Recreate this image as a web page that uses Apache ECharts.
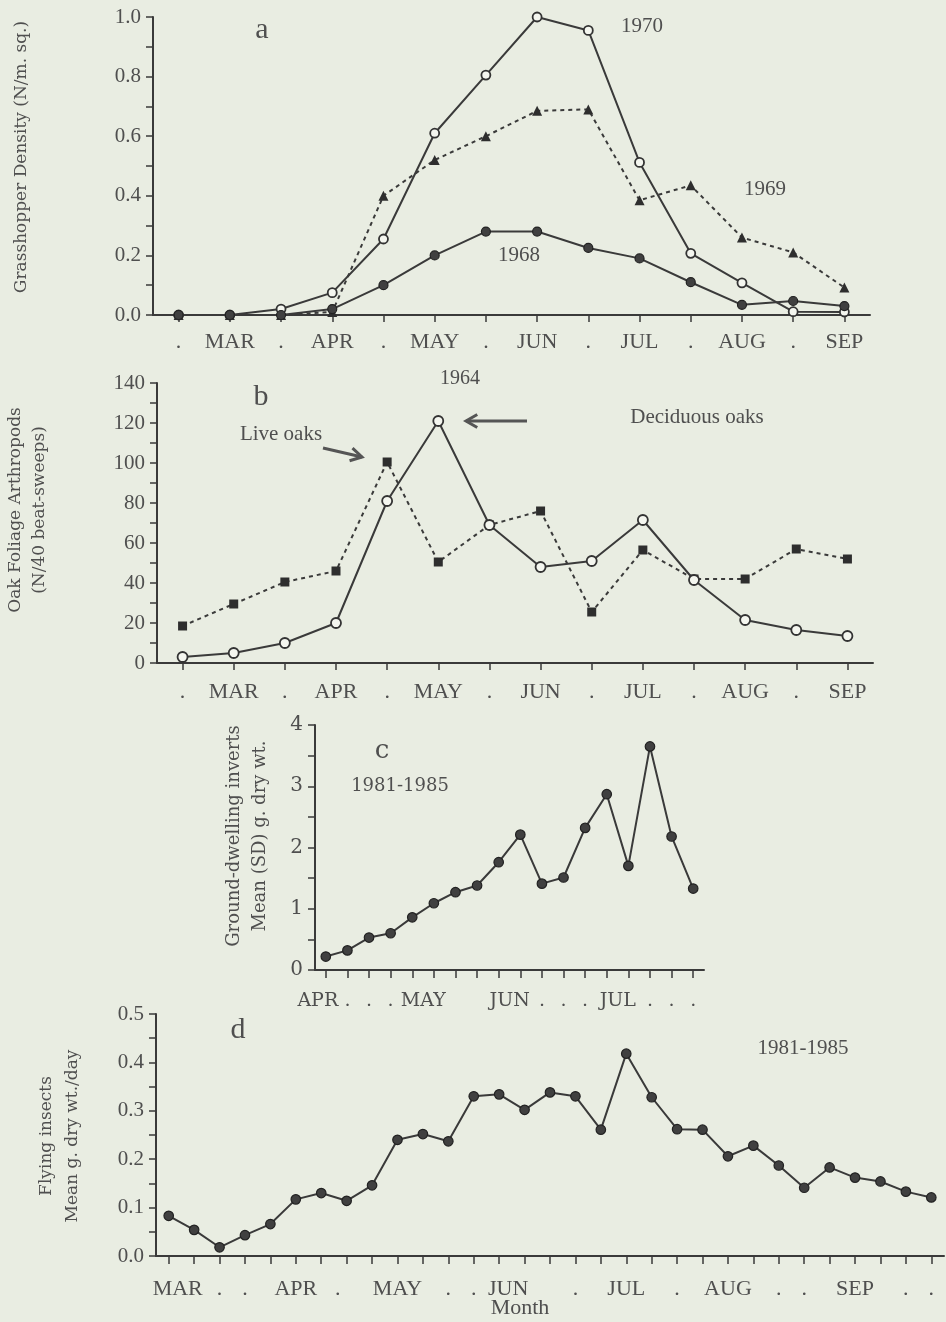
<!DOCTYPE html>
<html>
<head>
<meta charset="utf-8">
<script src="https://cdn.jsdelivr.net/npm/echarts@6/dist/echarts.min.js"></script>
<style>
html,body{margin:0;padding:0;background:#e9ede2;}
#chart{width:946px;height:1322px;}
</style>
</head>
<body>
<div id="chart"></div>
<script>
// ---------- DATA ----------
// Panel a: grasshopper density
const monthsAB = ['.', 'MAR', '.', 'APR', '.', 'MAY', '.', 'JUN', '.', 'JUL', '.', 'AUG', '.', 'SEP'];
const hopper1968 = [0, 0, 0, 0.02, 0.10, 0.20, 0.28, 0.28, 0.225, 0.19, 0.11, 0.034, 0.047, 0.03];
const hopper1969 = [0, 0, 0, 0.01, 0.40, 0.52, 0.60, 0.685, 0.69, 0.385, 0.435, 0.26, 0.21, 0.092];
const hopper1970 = [0, 0, 0.02, 0.075, 0.255, 0.61, 0.805, 1.0, 0.955, 0.512, 0.207, 0.108, 0.011, 0.01];
const yTicksA = [0, 0.2, 0.4, 0.6, 0.8, 1.0];
// Panel b: oak foliage arthropods 1964
const deciduousOaks = [3, 5, 10, 20, 81, 121, 69, 48, 51, 71.5, 41.5, 21.5, 16.5, 13.5];
const liveOaks = [18.5, 29.5, 40.5, 46, 100.5, 50.5, 69, 76, 25.5, 56.5, 42, 42, 57, 52];
const yTicksB = [0, 20, 40, 60, 80, 100, 120, 140];
// Panel c: ground-dwelling inverts 1981-1985
const weeksC = ['APR', '.', '.', '.', 'MAY', '', '', '', 'JUN', '', '.', '.', '.', 'JUL', '', '.', '.', '.'];
const groundInverts = [0.22, 0.32, 0.53, 0.60, 0.86, 1.09, 1.27, 1.38, 1.76, 2.21, 1.41, 1.51, 2.32, 2.87, 1.70, 3.65, 2.18, 1.33];
const yTicksC = [0, 1, 2, 3, 4];
// Panel d: flying insects 1981-1985
const weeksD = ['MAR', '', '.', '.', '', 'APR', '', '.', '', 'MAY', '', '.', '.', 'JUN', '', '', '.', '', 'JUL', '', '.', '', 'AUG', '', '.', '.', '', 'SEP', '', '.', '.'];
const flyingInsects = [0.083, 0.054, 0.018, 0.043, 0.066, 0.117, 0.130, 0.114, 0.146, 0.240, 0.252, 0.237, 0.330, 0.334, 0.302, 0.338, 0.330, 0.261, 0.418, 0.328, 0.262, 0.261, 0.206, 0.228, 0.187, 0.141, 0.183, 0.162, 0.154, 0.133, 0.121];
const yTicksD = [0, 0.1, 0.2, 0.3, 0.4, 0.5];

// ---------- STYLE ----------
const BG = '#e9ede2';
const INK = '#3a3a3a';
const TXT = '#4f4f4f';
const TIMES = '"Liberation Serif", "Times New Roman", serif';
const PALA = '"DejaVu Serif", serif';

const chart = echarts.init(document.getElementById('chart'), null, {renderer: 'canvas'});

function xAxisFor(grid, cats, opts) {
  opts = opts || {};
  return {
    gridIndex: grid, type: 'category', data: cats, boundaryGap: true,
    axisLine: {show: true, onZero: false, lineStyle: {color: INK, width: 2}},
    axisTick: {show: true, alignWithLabel: true, interval: 0, length: opts.tickLen || 7, lineStyle: {color: INK, width: 1.5}},
    axisLabel: Object.assign({
      interval: 0, color: TXT, fontFamily: opts.font || TIMES, fontSize: opts.fontSize || 22,
      margin: opts.margin || 16
    }, opts.label || {}),
    splitLine: {show: false}
  };
}
function yAxisFor(grid, ticks, opts) {
  opts = opts || {};
  return {
    gridIndex: grid, type: 'value', min: ticks[0], max: ticks[ticks.length - 1],
    interval: ticks[1] - ticks[0],
    axisLine: {show: true, lineStyle: {color: INK, width: 2}},
    axisTick: {show: true, length: 7, lineStyle: {color: INK, width: 1.5}},
    minorTick: {show: true, splitNumber: 2, length: 7, lineStyle: {color: INK, width: 1.5}},
    splitLine: {show: false},
    axisLabel: {
      color: TXT, fontFamily: opts.font || TIMES, fontSize: opts.fontSize || 21, margin: 12,
      formatter: opts.fmt || (v => String(v))
    }
  };
}

const richShift = {
  r: {padding: [0, 0, 0, 22]},
  l: {padding: [0, 16, 0, 0]},
  rs: {padding: [0, 0, 0, 18]},
  ls: {padding: [0, 18, 0, 0]}
};
function applyRich(base, rich) {
  const out = {};
  Object.keys(rich).forEach(k => { out[k] = Object.assign({}, base, rich[k]); });
  return out;
}

const labelBaseC = {color: TXT, fontFamily: PALA, fontSize: 19};
const labelBaseD = {color: TXT, fontFamily: TIMES, fontSize: 22};

const filledCircle = {color: '#404040', borderColor: '#222', borderWidth: 1.2};
const openCircle = {color: '#f4f6ef', borderColor: '#333', borderWidth: 1.8};

function line(grid, data, symbol, size, item, dashed, z) {
  return {
    type: 'line', xAxisIndex: grid, yAxisIndex: grid, data: data,
    symbol: symbol, symbolSize: size, showAllSymbol: true,
    lineStyle: {color: INK, width: 2, type: dashed ? [4, 4] : 'solid'},
    itemStyle: item, z: z || 2, silent: true
  };
}

function arrow(x1, y1, x2, y2) {
  const dx = x2 - x1, dy = y2 - y1, len = Math.sqrt(dx * dx + dy * dy);
  const ux = dx / len, uy = dy / len, h = 13, a = Math.PI / 6;
  const p1 = [x2 - h * (ux * Math.cos(a) - uy * Math.sin(a)), y2 - h * (uy * Math.cos(a) + ux * Math.sin(a))];
  const p2 = [x2 - h * (ux * Math.cos(a) + uy * Math.sin(a)), y2 - h * (uy * Math.cos(a) - ux * Math.sin(a))];
  return [
    {type: 'polyline', shape: {points: [[x1, y1], [x2, y2]]}, style: {stroke: '#555', lineWidth: 3, fill: null}},
    {type: 'polyline', shape: {points: [p1, [x2, y2], p2]}, style: {stroke: '#555', lineWidth: 3, fill: null}}
  ];
}
function txt(x, y, s, font, rot, lh) {
  const st = {text: s, font: font, fill: TXT, align: 'center', verticalAlign: 'middle', textAlign: 'center', textVerticalAlign: 'middle'};
  if (lh) st.lineHeight = lh;
  const o = {type: 'text', x: x, y: y, style: st, z: 10};
  if (rot) o.rotation = rot;
  return o;
}

const option = {
  backgroundColor: BG,
  animation: false,
  grid: [
    {left: 153, top: 17, width: 717, height: 298},
    {left: 157, top: 383, width: 716, height: 280},
    {left: 315, top: 725, width: 389, height: 245},
    {left: 156, top: 1014, width: 788, height: 242}
  ],
  xAxis: [
    xAxisFor(0, monthsAB, {margin: 16}),
    xAxisFor(1, monthsAB, {margin: 18}),
    xAxisFor(2, weeksC, {tickLen: 8, margin: 22, font: PALA, fontSize: 19, label: {
      formatter: v => (v === 'MAY' || v === 'JUN' || v === 'JUL') ? '{r|' + v + '}' : (v === 'APR' ? '{l|' + v + '}' : v),
      rich: applyRich(labelBaseC, richShift)
    }}),
    xAxisFor(3, weeksD, {tickLen: 8, margin: 22, label: {
      formatter: (v, i) => (v === 'MAR' || v === 'JUN') ? '{rs|' + v + '}' : (i === 7 ? '{ls|' + v + '}' : v),
      rich: applyRich(labelBaseD, richShift)
    }})
  ],
  yAxis: [
    yAxisFor(0, yTicksA, {fmt: v => v.toFixed(1)}),
    yAxisFor(1, yTicksB),
    yAxisFor(2, yTicksC, {font: PALA, fontSize: 20}),
    yAxisFor(3, yTicksD, {fmt: v => v.toFixed(1)})
  ],
  series: [
    line(0, hopper1969, 'triangle', 10, {color: '#2e2e2e'}, true, 2),
    line(0, hopper1970, 'circle', 9, openCircle, false, 3),
    line(0, hopper1968, 'circle', 9, filledCircle, false, 4),
    line(1, liveOaks, 'rect', 9, {color: '#2e2e2e'}, true, 2),
    line(1, deciduousOaks, 'circle', 10, openCircle, false, 3),
    line(2, groundInverts, 'circle', 9.5, filledCircle, false, 3),
    line(3, flyingInsects, 'circle', 9.5, filledCircle, false, 3)
  ],
  graphic: [].concat(
    [
      txt(22, 157, 'Grasshopper Density (N/m. sq.)', '17px ' + PALA, Math.PI / 2),
      txt(28, 510, 'Oak Foliage Arthropods\n(N/40 beat-sweeps)', '17px ' + PALA, Math.PI / 2, 24),
      txt(247, 836, 'Ground-dwelling inverts\nMean (SD) g. dry wt.', '18px ' + PALA, Math.PI / 2, 26),
      txt(60, 1136, 'Flying insects\nMean g. dry wt./day', '17px ' + PALA, Math.PI / 2, 26),
      txt(262, 30, 'a', '30px ' + TIMES),
      txt(642, 26, '1970', '21px ' + TIMES),
      txt(765, 189, '1969', '21px ' + TIMES),
      txt(519, 255, '1968', '21px ' + TIMES),
      txt(261, 397, 'b', '30px ' + TIMES),
      txt(460, 379, '1964', '20px ' + TIMES),
      txt(281, 434, 'Live oaks', '21px ' + TIMES),
      txt(697, 417, 'Deciduous oaks', '21px ' + TIMES),
      txt(382, 751, 'c', '26px ' + PALA),
      txt(400, 786, '1981-1985', '18px ' + PALA),
      txt(238, 1030, 'd', '30px ' + TIMES),
      txt(803, 1048, '1981-1985', '21px ' + TIMES),
      txt(520, 1308, 'Month', '22px ' + TIMES)
    ],
    arrow(323, 448, 362, 457),
    arrow(527, 421, 466, 421)
  )
};
chart.setOption(option);
</script>
</body>
</html>
